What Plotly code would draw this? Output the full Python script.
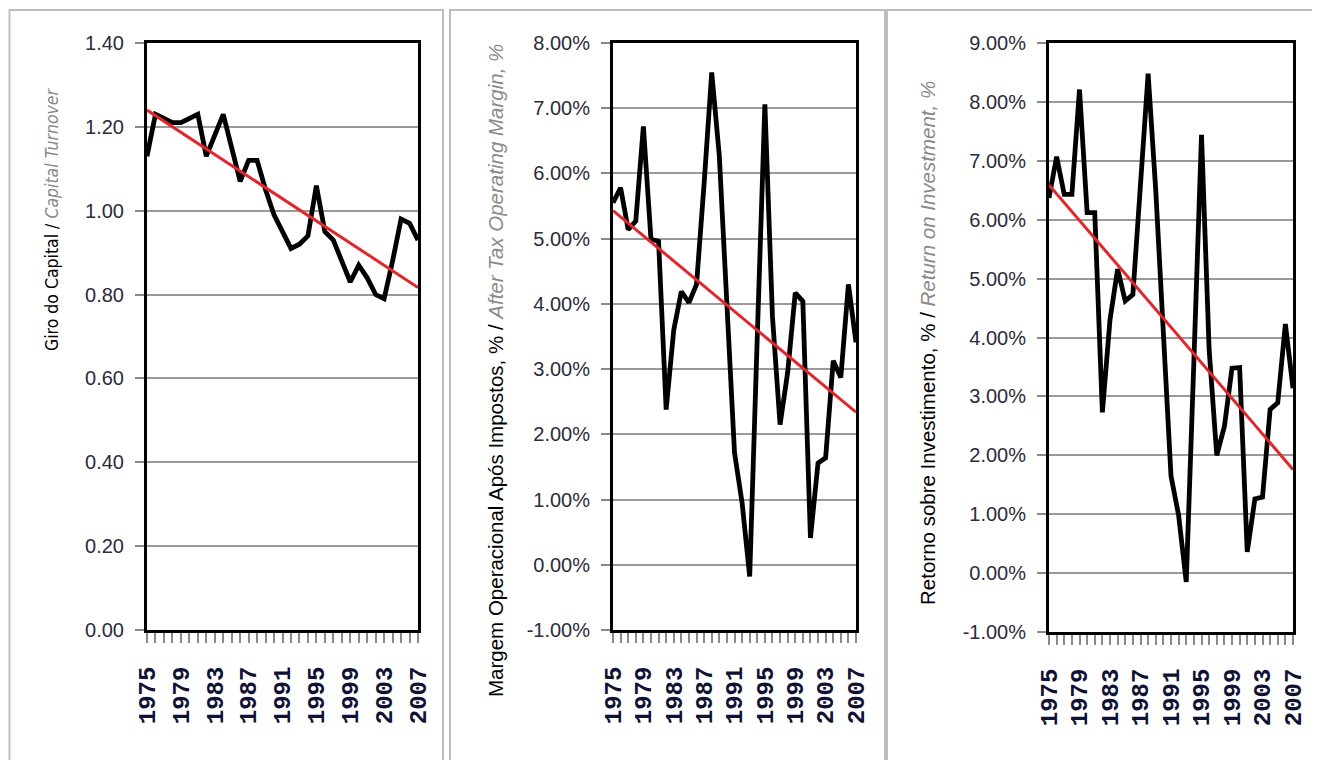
import plotly.graph_objects as go

years = list(range(1975, 2008))
year_labels = [str(y) for y in range(1975, 2008, 4)]

capital_turnover = [1.13, 1.23, 1.22, 1.21, 1.21, 1.22, 1.23, 1.13, 1.18, 1.23,
                    1.15, 1.07, 1.12, 1.12, 1.05, 0.99, 0.95, 0.91, 0.92, 0.94,
                    1.06, 0.95, 0.93, 0.88, 0.83, 0.87, 0.84, 0.80, 0.79, 0.88,
                    0.98, 0.97, 0.93]
operating_margin = [5.55, 5.78, 5.14, 5.27, 6.72, 4.99, 4.96, 2.38, 3.60, 4.19,
                    4.02, 4.30, 5.85, 7.55, 6.27, 4.00, 1.72, 0.95, -0.18, 3.50,
                    7.06, 3.80, 2.15, 2.95, 4.17, 4.04, 0.41, 1.56, 1.64, 3.13,
                    2.87, 4.30, 3.41]
return_on_inv = [6.37, 7.07, 6.43, 6.43, 8.21, 6.12, 6.12, 2.73, 4.30, 5.16,
                 4.62, 4.73, 6.60, 8.48, 6.50, 4.10, 1.65, 0.98, -0.15, 3.60,
                 7.44, 3.80, 2.00, 2.49, 3.48, 3.49, 0.36, 1.26, 1.29, 2.78,
                 2.89, 4.23, 3.14]

trend_years = [1975, 2007]
trend_turnover = [1.24, 0.817]
trend_margin = [5.43, 2.34]
trend_roi = [6.59, 1.76]

turnover_ticks = [0.0, 0.2, 0.4, 0.6, 0.8, 1.0, 1.2, 1.4]
margin_ticks = [-1, 0, 1, 2, 3, 4, 5, 6, 7, 8]
roi_ticks = [-1, 0, 1, 2, 3, 4, 5, 6, 7, 8, 9]

W, H = 1320, 760
OFF = 8  # page body margin
def px(x): return (x - OFF) / W
def py(y): return 1 - (y - OFF) / H

panels = [
    dict(x0=147, x1=418, y0=43, y1=630, rng=[0, 1.4],
         ticks=turnover_ticks, text=[f"{v:.2f}" for v in turnover_ticks],
         data=capital_turnover, trend=trend_turnover),
    dict(x0=613, x1=856, y0=43, y1=630, rng=[-1, 8],
         ticks=margin_ticks, text=[f"{v:.2f}%" for v in margin_ticks],
         data=operating_margin, trend=trend_margin),
    dict(x0=1049, x1=1293, y0=43, y1=632, rng=[-1, 9],
         ticks=roi_ticks, text=[f"{v:.2f}%" for v in roi_ticks],
         data=return_on_inv, trend=trend_roi),
]

fig = go.Figure()
layout = dict(width=W, height=H, margin=dict(l=0, r=0, t=0, b=0, pad=0),
              paper_bgcolor="white", plot_bgcolor="white", showlegend=False)

for k, p in enumerate(panels, start=1):
    sx = "" if k == 1 else str(k)
    fig.add_trace(go.Scatter(x=years, y=p["data"], mode="lines",
                             line=dict(color="black", width=4.8),
                             xaxis="x" + sx, yaxis="y" + sx, hoverinfo="skip"))
    fig.add_trace(go.Scatter(x=trend_years, y=p["trend"], mode="lines",
                             line=dict(color="#e3262b", width=3),
                             xaxis="x" + sx, yaxis="y" + sx, hoverinfo="skip"))
    layout["xaxis" + sx] = dict(
        domain=[px(p["x0"]), px(p["x1"])], anchor="y" + sx, automargin=False,
        range=[1975, 2007], tickmode="array",
        tickvals=[int(v) for v in year_labels], ticktext=year_labels,
        tickangle=-90, ticks="outside", ticklen=10, tickcolor="#8a8a8a", tickwidth=1.5,
        minor=dict(dtick=1, tick0=1975, ticks="outside", ticklen=10,
                   tickcolor="#8a8a8a", tickwidth=1.5, showgrid=False),
        tickfont=dict(family="Liberation Mono, DejaVu Sans Mono, monospace",
                      size=24, color="#111133", weight="bold"),
        ticklabelstandoff=14,
        showgrid=False, zeroline=False,
        showline=True, linecolor="black", linewidth=3, mirror=True,
        fixedrange=True)
    layout["yaxis" + sx] = dict(
        domain=[py(p["y1"]), py(p["y0"])], anchor="x" + sx, automargin=False,
        range=p["rng"], tickmode="array", tickvals=p["ticks"], ticktext=p["text"],
        ticks="outside", ticklen=9, tickcolor="#8a8a8a", tickwidth=1.5,
        tickfont=dict(family="Liberation Sans, Arial, sans-serif", size=20, color="#2b2b3b"),
        ticklabelstandoff=7,
        showgrid=True, gridcolor="#9a9a9a", gridwidth=2, zeroline=False,
        showline=True, linecolor="black", linewidth=3, mirror=True,
        fixedrange=True)

fig.update_layout(**layout)

# panel frames
for (l, r) in [(9.5, 443), (450, 885), (887, 1335)]:
    fig.add_shape(type="rect", xref="paper", yref="paper",
                  x0=px(l), x1=px(r), y0=py(10), y1=-0.1,
                  line=dict(color="#bdbdbd", width=2), layer="below")

titles = [
    (52, 219, "Giro do Capital / <i><span style='color:#8a8a8a'>Capital Turnover</span></i>",
     "Liberation Sans Narrow, DejaVu Sans Condensed, Arial Narrow, sans-serif", 17.5),
    (495, 371, "Margem Operacional Após Impostos, % / <i><span style='color:#8a8a8a'>After Tax Operating Margin, %</span></i>",
     "Liberation Sans, Arial, sans-serif", 20.5),
    (927, 343, "Retorno sobre Investimento, % / <i><span style='color:#8a8a8a'>Return on Investment, %</span></i>",
     "Liberation Sans, Arial, sans-serif", 20.5),
]
for (x, y, t, fam, sz) in titles:
    fig.add_annotation(x=px(x), y=py(y), xref="paper", yref="paper", text=t,
                       textangle=-90, showarrow=False, xanchor="center", yanchor="middle",
                       font=dict(family=fam, size=sz, color="black"))

fig.write_html("out.html")
